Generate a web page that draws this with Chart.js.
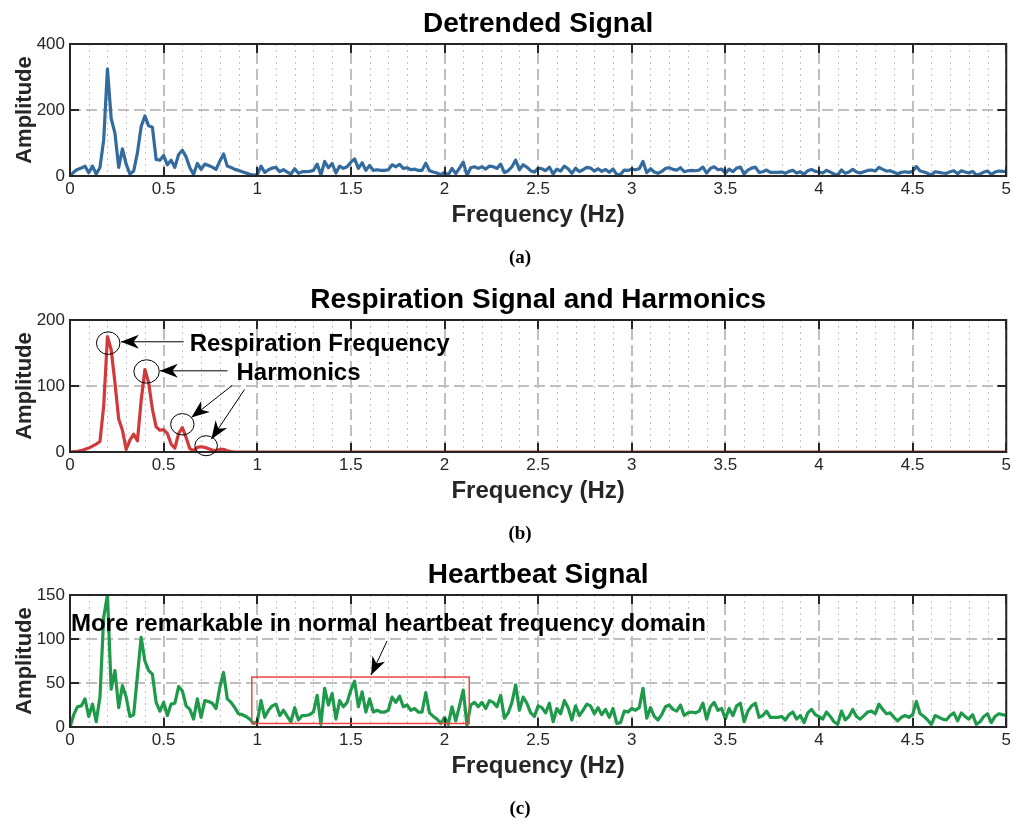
<!DOCTYPE html>
<html>
<head>
<meta charset="utf-8">
<title>Detrended, respiration and heartbeat spectra</title>
<script src="https://cdn.jsdelivr.net/npm/chart.js@4.4.1/dist/chart.umd.min.js"></script>
<style>
  html, body { margin: 0; padding: 0; background: #fff; overflow: hidden; }
  .panel { position: absolute; left: 0; }
</style>
</head>
<body>
<canvas id="chart-a" class="panel" width="1014" height="276" style="top:0"></canvas>
<canvas id="chart-b" class="panel" width="1014" height="276" style="top:276px"></canvas>
<canvas id="chart-c" class="panel" width="1014" height="276" style="top:551px"></canvas>
<script>
// FFT amplitude spectra, 0 - 5 Hz, 0.02 Hz bins
const freqs = [
  0, 0.02, 0.04, 0.06, 0.08, 0.1, 0.12, 0.14, 0.16, 0.18,
  0.2, 0.22, 0.24, 0.26, 0.28, 0.3, 0.32, 0.34, 0.36, 0.38,
  0.4, 0.42, 0.44, 0.46, 0.48, 0.5, 0.52, 0.54, 0.56, 0.58,
  0.6, 0.62, 0.64, 0.66, 0.68, 0.7, 0.72, 0.74, 0.76, 0.78,
  0.8, 0.82, 0.84, 0.86, 0.88, 0.9, 0.92, 0.94, 0.96, 0.98,
  1, 1.02, 1.04, 1.06, 1.08, 1.1, 1.12, 1.14, 1.16, 1.18,
  1.2, 1.22, 1.24, 1.26, 1.28, 1.3, 1.32, 1.34, 1.36, 1.38,
  1.4, 1.42, 1.44, 1.46, 1.48, 1.5, 1.52, 1.54, 1.56, 1.58,
  1.6, 1.62, 1.64, 1.66, 1.68, 1.7, 1.72, 1.74, 1.76, 1.78,
  1.8, 1.82, 1.84, 1.86, 1.88, 1.9, 1.92, 1.94, 1.96, 1.98,
  2, 2.02, 2.04, 2.06, 2.08, 2.1, 2.12, 2.14, 2.16, 2.18,
  2.2, 2.22, 2.24, 2.26, 2.28, 2.3, 2.32, 2.34, 2.36, 2.38,
  2.4, 2.42, 2.44, 2.46, 2.48, 2.5, 2.52, 2.54, 2.56, 2.58,
  2.6, 2.62, 2.64, 2.66, 2.68, 2.7, 2.72, 2.74, 2.76, 2.78,
  2.8, 2.82, 2.84, 2.86, 2.88, 2.9, 2.92, 2.94, 2.96, 2.98,
  3, 3.02, 3.04, 3.06, 3.08, 3.1, 3.12, 3.14, 3.16, 3.18,
  3.2, 3.22, 3.24, 3.26, 3.28, 3.3, 3.32, 3.34, 3.36, 3.38,
  3.4, 3.42, 3.44, 3.46, 3.48, 3.5, 3.52, 3.54, 3.56, 3.58,
  3.6, 3.62, 3.64, 3.66, 3.68, 3.7, 3.72, 3.74, 3.76, 3.78,
  3.8, 3.82, 3.84, 3.86, 3.88, 3.9, 3.92, 3.94, 3.96, 3.98,
  4, 4.02, 4.04, 4.06, 4.08, 4.1, 4.12, 4.14, 4.16, 4.18,
  4.2, 4.22, 4.24, 4.26, 4.28, 4.3, 4.32, 4.34, 4.36, 4.38,
  4.4, 4.42, 4.44, 4.46, 4.48, 4.5, 4.52, 4.54, 4.56, 4.58,
  4.6, 4.62, 4.64, 4.66, 4.68, 4.7, 4.72, 4.74, 4.76, 4.78,
  4.8, 4.82, 4.84, 4.86, 4.88, 4.9, 4.92, 4.94, 4.96, 4.98,
  5
]

const detrended = [
  0, 12, 20, 24, 30, 10, 30, 6, 26, 110,
  325, 174, 130, 26, 82, 36, 6, 15, 70, 150,
  182, 152, 148, 50, 48, 62, 34, 48, 26, 65,
  78, 58, 25, 5, 38, 20, 36, 32, 27, 20,
  45, 67, 30, 26, 20, 17, 13, 9, 5, 3,
  4, 30, 11, 19, 24, 26, 13, 19, 12, 6,
  22, 8, 13, 13, 14, 17, 36, 3, 44, 25,
  38, 9, 30, 23, 28, 42, 52, 23, 40, 17,
  32, 17, 19, 17, 17, 19, 34, 28, 35, 23,
  25, 19, 21, 17, 17, 39, 16, 12, 9, 4,
  11, 3, 23, 7, 24, 42, 2, 25, 28, 23,
  28, 21, 30, 28, 23, 36, 10, 16, 28, 48,
  19, 34, 27, 16, 12, 24, 22, 16, 27, 6,
  21, 15, 30, 22, 8, 24, 13, 19, 26, 24,
  15, 22, 14, 20, 11, 21, 4, 5, 18, 17,
  21, 19, 22, 44, 10, 22, 12, 8, 14, 23,
  25, 20, 18, 25, 13, 16, 17, 16, 18, 27,
  9, 23, 28, 19, 21, 9, 21, 13, 24, 27,
  6, 18, 24, 27, 11, 13, 18, 11, 11, 11,
  12, 8, 14, 17, 9, 13, 5, 16, 20, 14,
  12, 9, 17, 12, 6, 3, 18, 8, 12, 20,
  12, 9, 13, 17, 18, 15, 26, 20, 15, 16,
  11, 7, 11, 13, 11, 14, 29, 15, 12, 8,
  3, 13, 11, 9, 8, 13, 16, 7, 16, 12,
  9, 14, 3, 6, 12, 15, 5, 12, 15, 14,
  13
]

const respiration = [
  0, 0.5, 1, 2, 4, 6, 9, 12, 16, 70,
  175, 155, 105, 50, 33, 4, 18, 27, 17, 78,
  125, 105, 65, 38, 33, 34, 28, 12, 6, 28,
  37, 22, 5, 2, 7, 8, 7, 5, 3, 2,
  4, 4, 2, 0.5, 0, 0, 0, 0, 0, 0,
  0, 0, 0, 0, 0, 0, 0, 0, 0, 0,
  0, 0, 0, 0, 0, 0, 0, 0, 0, 0,
  0, 0, 0, 0, 0, 0, 0, 0, 0, 0,
  0, 0, 0, 0, 0, 0, 0, 0, 0, 0,
  0, 0, 0, 0, 0, 0, 0, 0, 0, 0,
  0, 0, 0, 0, 0, 0, 0, 0, 0, 0,
  0, 0, 0, 0, 0, 0, 0, 0, 0, 0,
  0, 0, 0, 0, 0, 0, 0, 0, 0, 0,
  0, 0, 0, 0, 0, 0, 0, 0, 0, 0,
  0, 0, 0, 0, 0, 0, 0, 0, 0, 0,
  0, 0, 0, 0, 0, 0, 0, 0, 0, 0,
  0, 0, 0, 0, 0, 0, 0, 0, 0, 0,
  0, 0, 0, 0, 0, 0, 0, 0, 0, 0,
  0, 0, 0, 0, 0, 0, 0, 0, 0, 0,
  0, 0, 0, 0, 0, 0, 0, 0, 0, 0,
  0, 0, 0, 0, 0, 0, 0, 0, 0, 0,
  0, 0, 0, 0, 0, 0, 0, 0, 0, 0,
  0, 0, 0, 0, 0, 0, 0, 0, 0, 0,
  0, 0, 0, 0, 0, 0, 0, 0, 0, 0,
  0, 0, 0, 0, 0, 0, 0, 0, 0, 0,
  0
]

const heartbeat = [
  0, 14, 23, 24, 32, 12, 26, 6, 34, 125,
  150, 43, 64, 22, 47, 34, 12, 14, 58, 102,
  75, 64, 60, 28, 18, 28, 13, 26, 27, 46,
  41, 24, 20, 9, 32, 11, 30, 29, 27, 21,
  45, 62, 32, 28, 22, 15, 14, 12, 9, 4,
  6, 30, 11, 19, 24, 26, 13, 19, 12, 6,
  22, 8, 13, 13, 14, 17, 36, 3, 44, 25,
  38, 9, 30, 23, 28, 42, 52, 23, 40, 17,
  32, 17, 19, 17, 17, 19, 34, 28, 35, 23,
  25, 19, 21, 17, 17, 39, 16, 12, 9, 4,
  11, 3, 23, 7, 24, 42, 2, 25, 28, 23,
  28, 21, 30, 28, 23, 36, 10, 16, 28, 48,
  19, 34, 27, 16, 12, 24, 22, 16, 27, 6,
  21, 15, 30, 22, 8, 24, 13, 19, 26, 24,
  15, 22, 14, 20, 11, 21, 4, 5, 18, 17,
  21, 19, 22, 44, 10, 22, 12, 8, 14, 23,
  25, 20, 18, 25, 13, 16, 17, 16, 18, 27,
  9, 23, 28, 19, 21, 9, 21, 13, 24, 27,
  6, 18, 24, 27, 11, 13, 18, 11, 11, 11,
  12, 8, 14, 17, 9, 13, 5, 16, 20, 14,
  12, 9, 17, 12, 6, 3, 18, 8, 12, 20,
  12, 9, 13, 17, 18, 15, 26, 20, 15, 16,
  11, 7, 11, 13, 11, 14, 29, 15, 12, 8,
  3, 13, 11, 9, 8, 13, 16, 7, 16, 12,
  9, 14, 3, 6, 12, 15, 5, 12, 15, 14,
  13
]

const xTicks = [0, 0.5, 1, 1.5, 2, 2.5, 3, 3.5, 4, 4.5, 5]
const xTickLabels = ['0', '0.5', '1', '1.5', '2', '2.5', '3', '3.5', '4', '4.5', '5']
const xMinorTicks = [
  0.1, 0.2, 0.3, 0.4, 0.6, 0.7, 0.8, 0.9, 1.1, 1.2, 1.3, 1.4, 1.6, 1.7, 1.8, 1.9,
  2.1, 2.2, 2.3, 2.4, 2.6, 2.7, 2.8, 2.9, 3.1, 3.2, 3.3, 3.4, 3.6, 3.7, 3.8, 3.9,
  4.1, 4.2, 4.3, 4.4, 4.6, 4.7, 4.8, 4.9
]
const yTicksA = [0, 200, 400]
const yTicksB = [0, 100, 200]
const yTicksC = [0, 50, 100, 150]

const FONT = '"Liberation Sans", Arial, Helvetica, sans-serif'
const INK = '#262626'

// annotation layers (data coordinates; ellipse radii in px)
const notesB = {
  ellipses: [
    { x: 0.204, y: 165, rx: 11.7, ry: 11.3 },
    { x: 0.409, y: 122, rx: 12.7, ry: 11.7 },
    { x: 0.600, y: 42, rx: 11.7, ry: 10.7 },
    { x: 0.727, y: 9.5, rx: 11.3, ry: 10 }
  ],
  arrows: [
    { from: [0.607, 167], to: [0.272, 167] },
    { from: [0.841, 123], to: [0.480, 123] },
    { from: [0.866, 100.8], to: [0.648, 52.2] },
    { from: [0.932, 94.7], to: [0.755, 19.5] }
  ],
  texts: [
    { text: 'Respiration Frequency', x: 0.639, y: 152.6 },
    { text: 'Harmonics', x: 0.889, y: 109.8 }
  ],
  boxes: []
}
const notesC = {
  ellipses: [],
  arrows: [{ from: [1.693, 97.7], to: [1.608, 59.1] }],
  texts: [{ text: 'More remarkable in normal heartbeat frequency domain', x: 0.005, y: 109 }],
  boxes: [{ x0: 0.971, x1: 2.132, y0: 4, y1: 56.8, color: '#ee4444' }]
}

function arrowHead (ctx, x0, y0, x1, y1) {
  const ang = Math.atan2(y1 - y0, x1 - x0)
  const L = 18, W = 7
  ctx.save()
  ctx.translate(x1, y1)
  ctx.rotate(ang)
  ctx.beginPath()
  ctx.moveTo(0, 0)
  ctx.lineTo(-L, -W)
  ctx.lineTo(-L * 0.7, 0)
  ctx.lineTo(-L, W)
  ctx.closePath()
  ctx.fill()
  ctx.restore()
}

function axesPlugin (cfg) {
  return {
    id: 'matlabAxes',
    beforeDatasetsDraw (chart) {
      const { ctx, chartArea: a, scales: { x, y } } = chart
      ctx.save()
      ctx.beginPath()
      ctx.rect(a.left, a.top, a.right - a.left, a.bottom - a.top)
      ctx.clip()
      // minor dotted grid
      ctx.lineWidth = 1
      ctx.strokeStyle = '#c4c4c4'
      ctx.setLineDash([2, 4])
      xMinorTicks.forEach(v => {
        const px = Math.round(x.getPixelForValue(v)) + 0.5
        ctx.beginPath(); ctx.moveTo(px, a.top); ctx.lineTo(px, a.bottom); ctx.stroke()
      })
      // major dashed grid
      ctx.lineWidth = 2
      ctx.strokeStyle = '#bfbfbf'
      ctx.setLineDash([11, 5])
      xTicks.forEach(v => {
        const px = Math.round(x.getPixelForValue(v))
        ctx.beginPath(); ctx.moveTo(px, a.bottom); ctx.lineTo(px, a.top); ctx.stroke()
      })
      cfg.yTicks.forEach(v => {
        const py = Math.round(y.getPixelForValue(v))
        ctx.beginPath(); ctx.moveTo(a.left, py); ctx.lineTo(a.right, py); ctx.stroke()
      })
      ctx.restore()
    },
    afterDatasetsDraw (chart) {
      const { ctx, chartArea: a, scales: { x, y } } = chart
      ctx.save()
      // box and inward ticks
      ctx.strokeStyle = INK
      ctx.lineWidth = 2
      ctx.strokeRect(a.left, a.top, a.right - a.left, a.bottom - a.top)
      const tl = 9
      ctx.beginPath()
      xTicks.forEach(v => {
        const px = Math.round(x.getPixelForValue(v))
        ctx.moveTo(px, a.bottom); ctx.lineTo(px, a.bottom - tl)
        ctx.moveTo(px, a.top); ctx.lineTo(px, a.top + tl)
      })
      cfg.yTicks.forEach(v => {
        const py = Math.round(y.getPixelForValue(v))
        ctx.moveTo(a.left, py); ctx.lineTo(a.left + tl, py)
        ctx.moveTo(a.right, py); ctx.lineTo(a.right - tl, py)
      })
      ctx.stroke()

      // annotations
      const n = cfg.notes
      if (n) {
        ctx.lineWidth = 1
        ctx.strokeStyle = '#000'
        ctx.fillStyle = '#000'
        n.boxes.forEach(b => {
          ctx.save()
          ctx.strokeStyle = b.color
          ctx.lineWidth = 1.5
          const x0 = x.getPixelForValue(b.x0), x1 = x.getPixelForValue(b.x1)
          const y0 = y.getPixelForValue(b.y0), y1 = y.getPixelForValue(b.y1)
          ctx.strokeRect(x0, y1, x1 - x0, y0 - y1)
          ctx.restore()
        })
        n.ellipses.forEach(e => {
          ctx.beginPath()
          ctx.ellipse(x.getPixelForValue(e.x), y.getPixelForValue(e.y), e.rx, e.ry, 0, 0, Math.PI * 2)
          ctx.stroke()
        })
        n.arrows.forEach(ar => {
          const x0 = x.getPixelForValue(ar.from[0]), y0 = y.getPixelForValue(ar.from[1])
          const x1 = x.getPixelForValue(ar.to[0]), y1 = y.getPixelForValue(ar.to[1])
          ctx.beginPath(); ctx.moveTo(x0, y0); ctx.lineTo(x1, y1); ctx.stroke()
          arrowHead(ctx, x0, y0, x1, y1)
        })
        ctx.font = 'bold 24px ' + FONT
        ctx.textAlign = 'left'
        ctx.textBaseline = 'alphabetic'
        n.texts.forEach(t => {
          ctx.fillText(t.text, x.getPixelForValue(t.x), y.getPixelForValue(t.y))
        })
      }

      // panel title and sub-caption
      ctx.fillStyle = '#000'
      ctx.textAlign = 'center'
      ctx.textBaseline = 'alphabetic'
      ctx.font = 'bold 28px ' + FONT
      ctx.fillText(cfg.title, (a.left + a.right) / 2, a.top - 12)
      ctx.font = 'bold 19px "Liberation Serif", "Times New Roman", serif'
      ctx.fillText(cfg.caption, 520, a.bottom + 87)
      ctx.restore()
    }
  }
}

function makeChart (id, cfg) {
  const canvas = document.getElementById(id)
  return new Chart(canvas, {
    type: 'line',
    data: {
      labels: freqs,
      datasets: [{
        data: cfg.values,
        borderColor: cfg.color,
        borderWidth: 3.2,
        borderJoinStyle: 'round',
        borderCapStyle: 'round',
        pointRadius: 0,
        tension: 0,
        fill: false
      }]
    },
    options: {
      responsive: false,
      animation: false,
      devicePixelRatio: 1,
      layout: { padding: { top: 44, right: 5, bottom: 40, left: 0 } },
      plugins: { legend: { display: false }, tooltip: { enabled: false }, title: { display: false } },
      scales: {
        x: {
          type: 'linear',
          min: 0,
          max: 5,
          grid: { display: false, drawTicks: false },
          border: { display: false },
          afterBuildTicks: s => { s.ticks = xTicks.map(v => ({ value: v })) },
          afterFit: s => { s.height = 60 },
          ticks: {
            padding: 3,
            maxRotation: 0,
            autoSkip: false,
            color: INK,
            font: { family: FONT, size: 17 },
            callback: (v, i) => xTickLabels[i]
          },
          title: {
            display: true,
            text: 'Frequency (Hz)',
            color: INK,
            font: { family: FONT, size: 24, weight: 'bold' },
            padding: { top: 0, bottom: 6 }
          }
        },
        y: {
          min: 0,
          max: cfg.yTicks[cfg.yTicks.length - 1],
          grid: { display: false, drawTicks: false },
          border: { display: false },
          afterBuildTicks: s => { s.ticks = cfg.yTicks.map(v => ({ value: v })) },
          afterFit: s => { s.width = 70 },
          ticks: {
            padding: 5,
            color: INK,
            font: { family: FONT, size: 17 },
            callback: v => String(v)
          },
          title: {
            display: true,
            text: 'Amplitude',
            color: INK,
            font: { family: FONT, size: 22, weight: 'bold' },
            padding: { top: 12, bottom: 0 }
          }
        }
      }
    },
    plugins: [axesPlugin(cfg)]
  })
}

makeChart('chart-a', { values: detrended, color: '#336b9e', yTicks: yTicksA, title: 'Detrended Signal', caption: '(a)' })
makeChart('chart-b', { values: respiration, color: '#d03a3a', yTicks: yTicksB, title: 'Respiration Signal and Harmonics', caption: '(b)', notes: notesB })
makeChart('chart-c', { values: heartbeat, color: '#1f9a4a', yTicks: yTicksC, title: 'Heartbeat Signal', caption: '(c)', notes: notesC })
</script>
</body>
</html>
